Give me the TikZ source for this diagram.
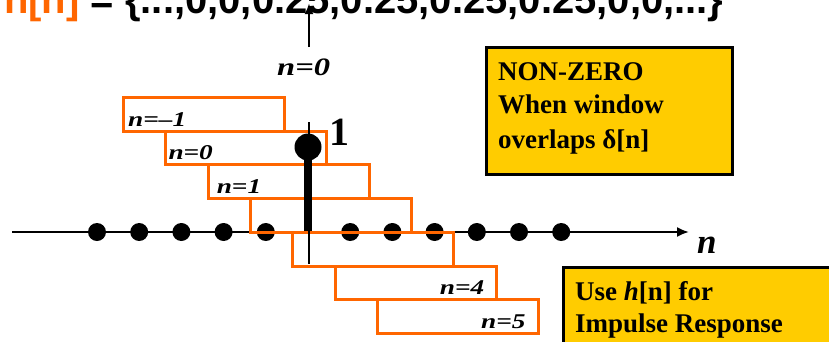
\documentclass[tikz,border=0pt]{standalone}
\usepackage{fontspec}
\usepackage{graphicx}
\setmainfont{Liberation Serif}
\newfontfamily\titlesans{Liberation Sans}
\usetikzlibrary{arrows.meta}
\definecolor{winorange}{HTML}{FF6600}
\definecolor{noteyellow}{HTML}{FFCC00}
\newcommand\widetext[1]{\scalebox{1.3}[1]{#1}}
\begin{document}
\begin{tikzpicture}[x=1pt,y=-1pt,
  win/.style={draw=winorange, line width=3pt, minimum width=161pt, minimum height=33.7pt, anchor=north west, inner sep=0pt},
  axdot/.style={circle, fill=black, inner sep=0pt, minimum size=18pt},
  winlabel/.style={font=\fontsize{21}{21}\selectfont\bfseries\itshape, inner sep=0pt},
  note/.style={draw=black, line width=3pt, fill=noteyellow, anchor=north west, inner sep=0pt},
  notetext/.style={font=\fontsize{27}{27}\selectfont\bfseries, anchor=base west, inner sep=0pt},
  plainlabel/.style={inner sep=0pt, anchor=base west},
]
\useasboundingbox (0,0) rectangle (829,341);

% title (cut off at the top)
\node[plainlabel, font=\titlesans\bfseries\fontsize{40}{40}\selectfont] (title) at (4,13.5)
  {\textcolor{winorange}{h[n]} = \{...,0,0,0.25,0.25,0.25,0.25,0,0,...\}};

% n=0 label with arrow up
\node[plainlabel, font=\fontsize{25}{25}\selectfont\bfseries\itshape] (n0top) at (277,75) {\widetext{n=0}};
\coordinate (upbase) at (309,47);
\coordinate (uptip) at (309,3);
\draw[line width=2.5pt, -{Latex[length=11pt,width=9pt]}] (upbase) -- (uptip);

% axis
\coordinate (axL) at (12,232);
\coordinate (axR) at (689,232);
\draw[line width=2pt, -{Latex[length=12pt,width=10pt]}] (axL) -- (axR);
\node[plainlabel, font=\fontsize{35}{35}\selectfont\bfseries\itshape] (nax) at (697,253) {n};

% axis dots
\foreach \i in {-5,-4,-3,-2,-1,1,2,3,4,5,6}
  \node[axdot] (x\i) at ({308+42.2*\i},232) {};

% windows
\foreach \k in {-1,0,1,2,3,4,5}
  \node[win] (w\k) at ({122+42.3*(\k+1)},{96+33.7*(\k+1)}) {};

\node[winlabel, anchor=base west] (l-1) at ([shift={(6,30)}]w-1.north west) {\widetext{n=–1}};
\node[winlabel, anchor=base west] (l0) at ([shift={(4,30)}]w0.north west) {\widetext{n=0}};
\node[winlabel, anchor=base west] (l1) at ([shift={(10,30)}]w1.north west) {\widetext{n=1}};
\node[winlabel, anchor=base east] (l4) at ([shift={(-13,30)}]w4.north east) {\widetext{n=4}};
\node[winlabel, anchor=base east] (l5) at ([shift={(-14,30)}]w5.north east) {\widetext{n=5}};

% vertical axis line and impulse stem
\coordinate (vtop) at (309,122);
\coordinate (vbot) at (309,264);
\draw[line width=2pt] (vtop) -- (vbot);
\node[circle, fill=black, inner sep=0pt, minimum size=27pt] (d0) at (308,147) {};
\coordinate (s0) at (308,231);
\draw[line width=8pt] (d0.center) -- (s0);
\node[plainlabel, font=\fontsize{40}{40}\selectfont\bfseries] (one) at (329,145) {1};

% note boxes
\node[note, minimum width=246pt, minimum height=127pt] (nb1) at (485,46) {};
\node[notetext] (nb1a) at (498,80) {NON-ZERO};
\node[notetext] (nb1b) at (498,113) {When window};
\node[notetext] (nb1c) at (498,148) {overlaps δ[n]};

\node[note, minimum width=290pt, minimum height=100pt] (nb2) at (562,266) {};
\node[notetext] (nb2a) at (575,300) {Use \textit{h}[n] for};
\node[notetext] (nb2b) at (575,332) {Impulse Response};
\end{tikzpicture}
\end{document}
